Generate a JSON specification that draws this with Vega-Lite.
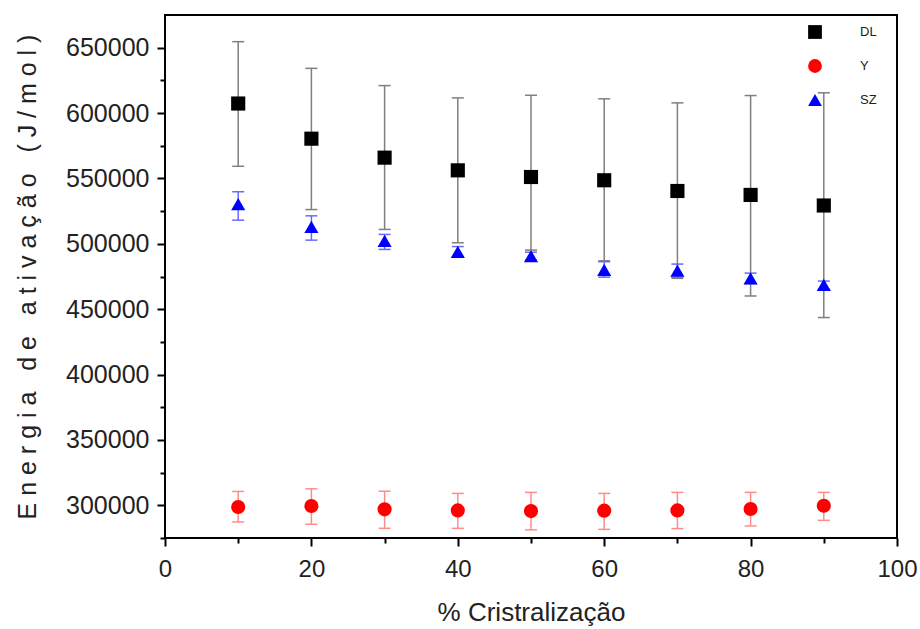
{
  "$schema": "https://vega.github.io/schema/vega-lite/v6.json",
  "width": 732,
  "height": 523,
  "autosize": "none",
  "padding": {"left": 165, "top": 15, "right": 23, "bottom": 91},
  "background": "white",
  "config": {
    "view": {"stroke": "black", "strokeWidth": 2},
    "font": "Liberation Sans"
  },
  "data": {
    "values": [
      {"x": 10, "series": "DL", "value": 607300, "lo": 559300, "hi": 654600},
      {"x": 20, "series": "DL", "value": 580400, "lo": 526200, "hi": 634200},
      {"x": 30, "series": "DL", "value": 565900, "lo": 511000, "hi": 621000},
      {"x": 40, "series": "DL", "value": 556200, "lo": 500800, "hi": 611600},
      {"x": 50, "series": "DL", "value": 551100, "lo": 495200, "hi": 613600},
      {"x": 60, "series": "DL", "value": 548600, "lo": 487000, "hi": 610900},
      {"x": 70, "series": "DL", "value": 540400, "lo": 473600, "hi": 607800},
      {"x": 80, "series": "DL", "value": 537400, "lo": 460100, "hi": 613400},
      {"x": 90, "series": "DL", "value": 529300, "lo": 443600, "hi": 615500},
      {"x": 10, "series": "Y", "value": 298700, "lo": 287300, "hi": 310600},
      {"x": 20, "series": "Y", "value": 299500, "lo": 285500, "hi": 312600},
      {"x": 30, "series": "Y", "value": 296900, "lo": 282400, "hi": 310800},
      {"x": 40, "series": "Y", "value": 296100, "lo": 282400, "hi": 309100},
      {"x": 50, "series": "Y", "value": 295600, "lo": 281200, "hi": 309900},
      {"x": 60, "series": "Y", "value": 295900, "lo": 281600, "hi": 309100},
      {"x": 70, "series": "Y", "value": 296100, "lo": 282200, "hi": 309900},
      {"x": 80, "series": "Y", "value": 297200, "lo": 284200, "hi": 309900},
      {"x": 90, "series": "Y", "value": 299700, "lo": 288500, "hi": 309900},
      {"x": 10, "series": "SZ", "value": 530300, "lo": 518100, "hi": 539800},
      {"x": 20, "series": "SZ", "value": 513000, "lo": 502800, "hi": 521400},
      {"x": 30, "series": "SZ", "value": 502300, "lo": 495700, "hi": 507200},
      {"x": 40, "series": "SZ", "value": 493900, "lo": 489900, "hi": 497900},
      {"x": 50, "series": "SZ", "value": 490600, "lo": 487600, "hi": 493600},
      {"x": 60, "series": "SZ", "value": 480000, "lo": 474500, "hi": 486300},
      {"x": 70, "series": "SZ", "value": 479500, "lo": 474500, "hi": 484500},
      {"x": 80, "series": "SZ", "value": 473600, "lo": 469600, "hi": 477600},
      {"x": 90, "series": "SZ", "value": 468500, "lo": 465500, "hi": 471500}
    ]
  },
  "encoding": {
    "x": {
      "field": "x",
      "type": "quantitative",
      "scale": {"domain": [0, 100], "nice": false, "zero": false},
      "axis": null
    }
  },
  "layer": [
    {
      "transform": [{"filter": "datum.series == 'DL'"}],
      "mark": {"type": "rule", "strokeWidth": 1.5, "color": "#7f7f7f"},
      "encoding": {
        "x": {
          "field": "x",
          "type": "quantitative",
          "scale": {"domain": [0, 100], "nice": false, "zero": false},
          "axis": {
            "orient": "bottom",
            "values": [0, 20, 40, 60, 80, 100],
            "format": "d",
            "labelOverlap": false,
            "title": "% Cristralização",
            "titleFont": "Liberation Sans",
            "titleFontSize": 26,
            "titleFontWeight": "normal",
            "titleColor": "#222",
            "titlePadding": 18,
            "labelFont": "Liberation Sans",
            "labelFontSize": 24,
            "labelColor": "#222",
            "labelPadding": 11,
            "labelFlush": false,
            "grid": false,
            "domain": false,
            "tickColor": "black",
            "tickWidth": 2,
            "tickSize": 8
          }
        },
        "y": {
          "field": "lo",
          "type": "quantitative",
          "scale": {"domain": [275000, 675000], "nice": false, "zero": false},
          "axis": {
            "orient": "left",
            "values": [300000, 350000, 400000, 450000, 500000, 550000, 600000, 650000],
            "format": "d",
            "labelOverlap": false,
            "title": "E n e r g i a \u00a0 d e \u00a0 a t i v a ç ã o \u00a0 ( J / m o l )",
            "titleFont": "Liberation Sans",
            "titleFontSize": 25,
            "titleFontWeight": "normal",
            "titleColor": "#222",
            "titlePadding": 25,
            "labelFont": "Liberation Sans",
            "labelFontSize": 25,
            "labelColor": "#222",
            "labelPadding": 8,
            "labelFlush": false,
            "grid": false,
            "domain": false,
            "tickColor": "black",
            "tickWidth": 2,
            "tickSize": 8
          }
        },
        "y2": {"field": "hi"}
      }
    },
    {
      "transform": [{"filter": "datum.series == 'DL'"}, {"fold": ["lo", "hi"], "as": ["end", "bound"]}],
      "mark": {"type": "point", "shape": "M-1,0L1,0", "size": 144, "filled": false, "strokeWidth": 1.5, "color": "#7f7f7f", "opacity": 1},
      "encoding": {
        "x": {
          "field": "x",
          "type": "quantitative",
          "axis": {
            "orient": "bottom",
            "values": [10, 30, 50, 70, 90],
            "labels": false,
            "title": null,
            "grid": false,
            "domain": false,
            "tickColor": "black",
            "tickWidth": 2,
            "tickSize": 5
          }
        },
        "y": {
          "field": "bound",
          "type": "quantitative",
          "axis": {
            "orient": "left",
            "values": [275000, 325000, 375000, 425000, 475000, 525000, 575000, 625000],
            "labels": false,
            "title": null,
            "grid": false,
            "domain": false,
            "tickColor": "black",
            "tickWidth": 2,
            "tickSize": 5
          }
        }
      }
    },
    {
      "transform": [{"filter": "datum.series == 'SZ'"}],
      "mark": {"type": "rule", "strokeWidth": 1.5, "color": "#6a6aff"},
      "encoding": {"y": {"field": "lo", "type": "quantitative", "axis": null}, "y2": {"field": "hi"}}
    },
    {
      "transform": [{"filter": "datum.series == 'SZ'"}, {"fold": ["lo", "hi"], "as": ["end", "bound"]}],
      "mark": {"type": "point", "shape": "M-1,0L1,0", "size": 144, "filled": false, "strokeWidth": 1.5, "color": "#6a6aff", "opacity": 1},
      "encoding": {"y": {"field": "bound", "type": "quantitative", "axis": null}}
    },
    {
      "transform": [{"filter": "datum.series == 'Y'"}],
      "mark": {"type": "rule", "strokeWidth": 1.5, "color": "#ff8c8c"},
      "encoding": {"y": {"field": "lo", "type": "quantitative", "axis": null}, "y2": {"field": "hi"}}
    },
    {
      "transform": [{"filter": "datum.series == 'Y'"}, {"fold": ["lo", "hi"], "as": ["end", "bound"]}],
      "mark": {"type": "point", "shape": "M-1,0L1,0", "size": 144, "filled": false, "strokeWidth": 1.5, "color": "#ff8c8c", "opacity": 1},
      "encoding": {"y": {"field": "bound", "type": "quantitative", "axis": null}}
    },
    {
      "mark": {"type": "point", "filled": true, "opacity": 1, "size": 200, "strokeWidth": 0},
      "encoding": {
        "y": {"field": "value", "type": "quantitative", "axis": null},
        "shape": {
          "field": "series",
          "type": "nominal",
          "scale": {"domain": ["DL", "Y", "SZ"], "range": ["square", "circle", "triangle-up"]},
          "legend": {
            "title": null,
            "orient": "none",
            "legendX": 643,
            "legendY": 10,
            "symbolSize": 190,
            "symbolOpacity": 1,
            "symbolStrokeWidth": 0,
            "labelFont": "Liberation Sans",
            "labelFontSize": 13,
            "labelColor": "#222",
            "labelOffset": 38,
            "rowPadding": 20,
            "padding": 0
          }
        },
        "color": {
          "field": "series",
          "type": "nominal",
          "scale": {"domain": ["DL", "Y", "SZ"], "range": ["#000000", "#ff0000", "#0000ff"]},
          "legend": {
            "title": null,
            "orient": "none",
            "legendX": 643,
            "legendY": 10,
            "symbolSize": 190,
            "symbolOpacity": 1,
            "symbolStrokeWidth": 0,
            "labelFont": "Liberation Sans",
            "labelFontSize": 13,
            "labelColor": "#222",
            "labelOffset": 38,
            "rowPadding": 20,
            "padding": 0
          }
        }
      }
    }
  ],
  "resolve": {"axis": {"x": "independent", "y": "independent"}}
}
